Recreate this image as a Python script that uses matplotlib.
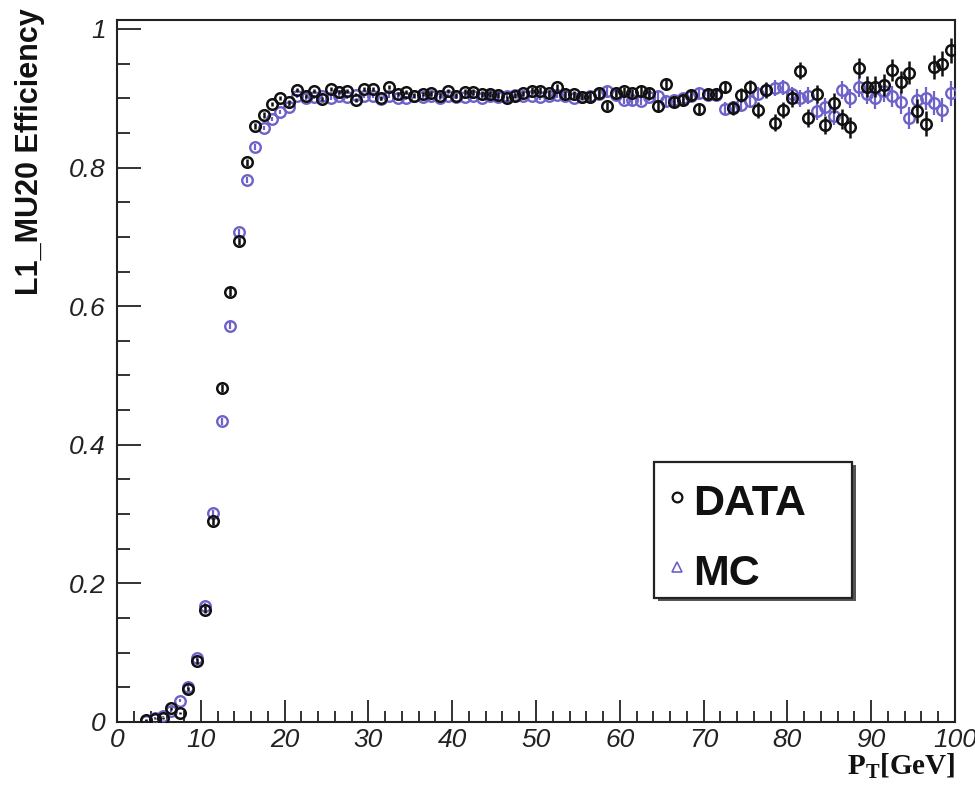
import matplotlib
matplotlib.use("Agg")
import matplotlib.pyplot as plt
from matplotlib.lines import Line2D
from matplotlib.patches import Rectangle
import numpy as np

plt.rcParams['mathtext.fontset'] = 'custom'
plt.rcParams['mathtext.rm'] = 'Liberation Serif'
plt.rcParams['mathtext.bf'] = 'Liberation Serif:bold'

# bin centres (1 GeV bins)
pt = [3.5 + i for i in range(97)]

data_eff = [0.003, 0.005, 0.006, 0.020, 0.013, 0.048, 0.088, 0.162, 0.290, 0.482,
            0.621, 0.694, 0.808, 0.860, 0.876, 0.892, 0.901, 0.894, 0.912, 0.903,
            0.910, 0.899, 0.913, 0.909, 0.911, 0.898, 0.913, 0.913, 0.901, 0.916,
            0.906, 0.909, 0.904, 0.906, 0.907, 0.904, 0.910, 0.904, 0.909, 0.909,
            0.906, 0.906, 0.905, 0.900, 0.904, 0.907, 0.911, 0.911, 0.907, 0.916,
            0.906, 0.906, 0.902, 0.902, 0.907, 0.889, 0.908, 0.910, 0.908, 0.911,
            0.908, 0.889, 0.921, 0.895, 0.897, 0.905, 0.884, 0.906, 0.906, 0.916,
            0.886, 0.905, 0.916, 0.883, 0.912, 0.865, 0.883, 0.900, 0.940, 0.872,
            0.906, 0.862, 0.893, 0.870, 0.858, 0.944, 0.917, 0.917, 0.919, 0.941,
            0.924, 0.937, 0.882, 0.863, 0.945, 0.950, 0.969]

data_err = [0.001, 0.001, 0.001, 0.002, 0.002, 0.003, 0.004, 0.005, 0.006, 0.006,
            0.006, 0.005, 0.005, 0.004, 0.004, 0.003, 0.003, 0.003, 0.003, 0.003,
            0.003, 0.003, 0.003, 0.003, 0.003, 0.003, 0.003, 0.003, 0.003, 0.003,
            0.003, 0.003, 0.003, 0.003, 0.003, 0.003, 0.003, 0.004, 0.004, 0.004,
            0.004, 0.004, 0.004, 0.004, 0.004, 0.004, 0.005, 0.005, 0.005, 0.005,
            0.005, 0.005, 0.005, 0.006, 0.006, 0.006, 0.006, 0.006, 0.006, 0.007,
            0.007, 0.007, 0.007, 0.008, 0.008, 0.008, 0.008, 0.009, 0.009, 0.009,
            0.010, 0.010, 0.010, 0.011, 0.011, 0.012, 0.012, 0.012, 0.012, 0.013,
            0.013, 0.013, 0.014, 0.014, 0.015, 0.014, 0.015, 0.015, 0.016, 0.016,
            0.016, 0.017, 0.017, 0.018, 0.017, 0.018, 0.018]

mc_eff = [0.002, 0.006, 0.008, 0.016, 0.031, 0.050, 0.093, 0.168, 0.301, 0.434,
          0.572, 0.707, 0.782, 0.830, 0.857, 0.870, 0.880, 0.888, 0.903, 0.900,
          0.902, 0.903, 0.900, 0.904, 0.902, 0.905, 0.903, 0.904, 0.899, 0.903,
          0.901, 0.900, 0.903, 0.902, 0.904, 0.901, 0.903, 0.902, 0.902, 0.903,
          0.901, 0.903, 0.902, 0.904, 0.905, 0.903, 0.904, 0.902, 0.903, 0.905,
          0.903, 0.901, 0.902, 0.904, 0.906, 0.910, 0.905, 0.898, 0.897, 0.896,
          0.902, 0.904, 0.896, 0.898, 0.900, 0.903, 0.907, 0.905, 0.905, 0.885,
          0.887, 0.890, 0.896, 0.906, 0.912, 0.915, 0.916, 0.906, 0.900, 0.904,
          0.881, 0.887, 0.875, 0.912, 0.900, 0.916, 0.906, 0.900, 0.910, 0.903,
          0.894, 0.871, 0.898, 0.900, 0.893, 0.883, 0.907]

mc_err = [0.001, 0.001, 0.001, 0.002, 0.002, 0.003, 0.003, 0.004, 0.005, 0.005,
          0.005, 0.004, 0.004, 0.004, 0.003, 0.003, 0.003, 0.003, 0.003, 0.003,
          0.003, 0.003, 0.003, 0.003, 0.003, 0.003, 0.003, 0.003, 0.003, 0.003,
          0.003, 0.003, 0.003, 0.003, 0.003, 0.003, 0.003, 0.003, 0.003, 0.004,
          0.004, 0.004, 0.004, 0.004, 0.004, 0.004, 0.004, 0.004, 0.005, 0.005,
          0.005, 0.005, 0.005, 0.005, 0.005, 0.006, 0.006, 0.006, 0.006, 0.006,
          0.006, 0.007, 0.007, 0.007, 0.007, 0.008, 0.008, 0.008, 0.008, 0.009,
          0.009, 0.009, 0.010, 0.010, 0.010, 0.011, 0.011, 0.011, 0.012, 0.012,
          0.012, 0.013, 0.013, 0.013, 0.014, 0.014, 0.014, 0.015, 0.015, 0.015,
          0.016, 0.016, 0.016, 0.017, 0.017, 0.017, 0.018]

black = '#111111'
blue = '#6c62c9'

fig = plt.figure(figsize=(9.75, 7.87), dpi=100)
ax = fig.add_axes([0.12, 0.0826, 0.8595, 0.892])

ax.errorbar(pt, mc_eff, yerr=mc_err, fmt='o', ms=7.6, mfc='none', mec=blue, mew=1.7,
            ecolor=blue, elinewidth=1.6, capsize=0, zorder=3)
ax.errorbar(pt, data_eff, yerr=data_err, fmt='o', ms=7.6, mfc='none', mec=black, mew=1.8,
            ecolor=black, elinewidth=1.8, capsize=0, zorder=4)

ax.set_xlim(0, 100)
ax.set_ylim(0, 1.013)
ax.set_xticks(np.arange(0, 101, 10))
ax.set_xticks(np.arange(0, 101, 2), minor=True)
ax.set_yticks([0, 0.2, 0.4, 0.6, 0.8, 1.0])
ax.set_yticks(np.arange(0, 1.001, 0.05), minor=True)
ax.set_yticklabels(['0', '0.2', '0.4', '0.6', '0.8', '1'])
ax.tick_params(which='both', direction='in', top=False, right=False, width=1.3, color='#222222')
ax.tick_params(which='major', axis='y', length=17, pad=8)
ax.tick_params(which='minor', axis='y', length=9)
ax.tick_params(which='major', axis='x', length=16, pad=4)
ax.tick_params(which='minor', axis='x', length=8)
for lab in ax.get_xticklabels() + ax.get_yticklabels():
    lab.set_fontfamily('Liberation Sans')
    lab.set_fontstyle('italic')
    lab.set_fontsize(19)
    lab.set_color('#222222')
for s in ax.spines.values():
    s.set_linewidth(1.5)
    s.set_color('#222222')

fig.text(0.031, 0.99, 'L1_MU20 Efficiency', rotation=90, ha='center', va='top',
         fontfamily='Liberation Sans', fontweight='bold', fontsize=22, color='#111111')
fig.text(0.9795, 0.0155, r'$\mathbf{P_{T}[GeV]}$', ha='right', va='baseline',
         fontsize=21, color='#111111')

# legend box (ROOT style with shadow)
lx0, ly0, lw, lh = 0.671, 0.240, 0.203, 0.173
fig.patches.append(Rectangle((lx0 + 0.004, ly0 - 0.004), lw, lh, transform=fig.transFigure,
                             facecolor='#555555', edgecolor='none', zorder=5))
fig.patches.append(Rectangle((lx0, ly0), lw, lh, transform=fig.transFigure,
                             facecolor='white', edgecolor='#222222', linewidth=1.6, zorder=6))
fig.lines.append(Line2D([0.694], [0.368], transform=fig.transFigure, marker='o', ms=7,
                        mfc='none', mec=black, mew=1.6, zorder=7))
fig.lines.append(Line2D([0.694], [0.279], transform=fig.transFigure, marker='^', ms=7,
                        mfc='none', mec=blue, mew=1.2, zorder=7))
fig.text(0.711, 0.346, 'DATA', ha='left', va='baseline', fontfamily='Liberation Sans',
         fontweight='bold', fontsize=31, color='#111111', zorder=8)
fig.text(0.711, 0.257, 'MC', ha='left', va='baseline', fontfamily='Liberation Sans',
         fontweight='bold', fontsize=31, color='#111111', zorder=8)

fig.savefig('out.png', dpi=100)
